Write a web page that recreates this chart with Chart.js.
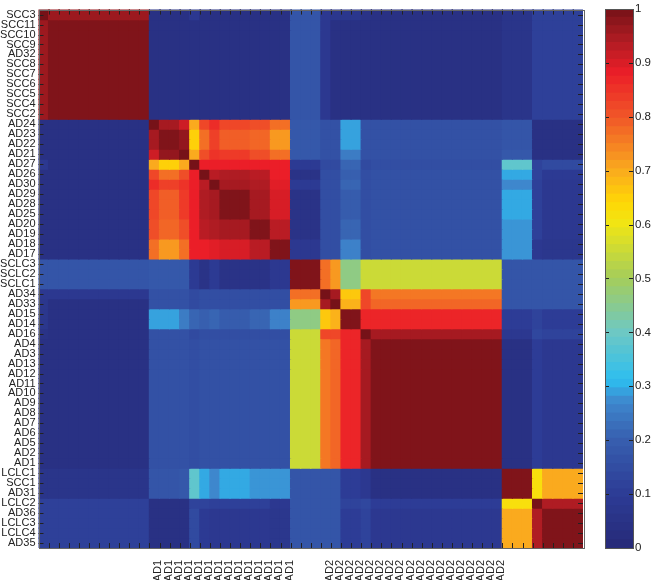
<!DOCTYPE html>
<html>
<head>
<meta charset="utf-8">
<script src="https://cdn.jsdelivr.net/npm/chart.js@4.4.0/dist/chart.umd.min.js"></script>
<style>
  body { margin: 0; background: #fff; }
  #wrap { position: relative; width: 651px; height: 580px; }
  #heat { position: absolute; left: 0; top: 0; }
  #bar { position: absolute; left: 590px; top: 0; }
</style>
</head>
<body>
<div id="wrap">
  <canvas id="heat" width="651" height="580"></canvas>
  <canvas id="bar" width="61" height="580"></canvas>
</div>
<script>
// Sample labels, top to bottom (same order for the columns)
const rowLabels = ['SCC3', 'SCC11', 'SCC10', 'SCC9', 'AD32', 'SCC8', 'SCC7', 'SCC6', 'SCC5', 'SCC4', 'SCC2',
  'AD24', 'AD23', 'AD22', 'AD21', 'AD27', 'AD26', 'AD30', 'AD29', 'AD28', 'AD25', 'AD20', 'AD19', 'AD18', 'AD17',
  'SCLC3', 'SCLC2', 'SCLC1', 'AD34', 'AD33', 'AD15', 'AD14', 'AD16',
  'AD4', 'AD3', 'AD13', 'AD12', 'AD11', 'AD10', 'AD9', 'AD8', 'AD7', 'AD6', 'AD5', 'AD2', 'AD1',
  'LCLC1', 'SCC1', 'AD31', 'LCLC2', 'AD36', 'LCLC3', 'LCLC4', 'AD35'];

// bottom labels as they show (clipped) in the picture
const colLabels = ['', '', '', '', '', '', '', '', '', '', '',
  'AD1', 'AD1', 'AD1', 'AD1', 'AD1', 'AD1', 'AD1', 'AD1', 'AD1', 'AD1', 'AD1', 'AD1', 'AD1', 'AD1',
  '', '', '', 'AD2', 'AD2', 'AD2', 'AD2', 'AD2',
  'AD2', 'AD2', 'AD2', 'AD2', 'AD2', 'AD2', 'AD2', 'AD2', 'AD2', 'AD2', 'AD2', 'AD2', 'AD2',
  '', '', '', '', '', '', '', ''];

// consecutive samples that share the same correlation profile
const clusterSizes = [1, 10, 1, 2, 1, 1, 1, 1, 3, 2, 2, 3, 1, 1, 2, 1, 13, 3, 1, 4];

// correlation between clusters
const clusterValues = [
  [1.00, 0.96, 0.04, 0.04, 0.04, 0.08, 0.04, 0.04, 0.04, 0.04, 0.04, 0.17, 0.08, 0.07, 0.07, 0.05, 0.04, 0.06, 0.11, 0.11],
  [0.96, 0.99, 0.04, 0.04, 0.04, 0.04, 0.04, 0.04, 0.04, 0.04, 0.04, 0.17, 0.08, 0.04, 0.04, 0.04, 0.04, 0.06, 0.11, 0.11],
  [0.04, 0.04, 1.00, 0.95, 0.91, 0.70, 0.82, 0.86, 0.82, 0.81, 0.77, 0.18, 0.16, 0.16, 0.29, 0.16, 0.16, 0.17, 0.04, 0.04],
  [0.04, 0.04, 0.95, 0.99, 0.97, 0.65, 0.77, 0.83, 0.79, 0.78, 0.72, 0.18, 0.16, 0.16, 0.29, 0.16, 0.16, 0.17, 0.04, 0.04],
  [0.04, 0.04, 0.91, 0.97, 1.00, 0.70, 0.81, 0.85, 0.84, 0.81, 0.77, 0.18, 0.16, 0.16, 0.25, 0.16, 0.16, 0.18, 0.04, 0.04],
  [0.08, 0.04, 0.70, 0.65, 0.70, 1.00, 0.88, 0.88, 0.88, 0.88, 0.88, 0.09, 0.14, 0.14, 0.21, 0.14, 0.15, 0.38, 0.12, 0.14],
  [0.04, 0.04, 0.82, 0.77, 0.81, 0.88, 1.00, 0.93, 0.94, 0.93, 0.88, 0.05, 0.15, 0.15, 0.20, 0.15, 0.16, 0.295, 0.12, 0.09],
  [0.04, 0.04, 0.86, 0.83, 0.85, 0.88, 0.93, 1.00, 0.95, 0.94, 0.89, 0.09, 0.15, 0.15, 0.21, 0.15, 0.16, 0.27, 0.11, 0.08],
  [0.04, 0.04, 0.82, 0.79, 0.84, 0.88, 0.94, 0.95, 0.99, 0.95, 0.90, 0.05, 0.15, 0.15, 0.19, 0.15, 0.16, 0.295, 0.11, 0.08],
  [0.04, 0.04, 0.81, 0.78, 0.81, 0.88, 0.93, 0.94, 0.95, 0.99, 0.93, 0.05, 0.15, 0.15, 0.21, 0.15, 0.16, 0.28, 0.11, 0.08],
  [0.04, 0.04, 0.77, 0.72, 0.77, 0.88, 0.88, 0.89, 0.90, 0.93, 0.99, 0.08, 0.15, 0.15, 0.26, 0.15, 0.16, 0.28, 0.08, 0.07],
  [0.17, 0.17, 0.18, 0.18, 0.18, 0.09, 0.05, 0.09, 0.05, 0.05, 0.08, 0.99, 0.77, 0.72, 0.46, 0.55, 0.55, 0.17, 0.17, 0.17],
  [0.08, 0.08, 0.16, 0.16, 0.16, 0.14, 0.15, 0.15, 0.15, 0.15, 0.15, 0.77, 1.00, 0.95, 0.66, 0.82, 0.76, 0.17, 0.17, 0.17],
  [0.07, 0.04, 0.16, 0.16, 0.16, 0.14, 0.15, 0.15, 0.15, 0.15, 0.15, 0.72, 0.95, 1.00, 0.69, 0.82, 0.78, 0.17, 0.17, 0.17],
  [0.07, 0.04, 0.29, 0.29, 0.25, 0.21, 0.20, 0.21, 0.19, 0.21, 0.26, 0.46, 0.66, 0.69, 0.99, 0.87, 0.87, 0.10, 0.12, 0.10],
  [0.05, 0.04, 0.16, 0.16, 0.16, 0.14, 0.15, 0.15, 0.15, 0.15, 0.15, 0.55, 0.82, 0.82, 0.87, 1.00, 0.95, 0.08, 0.13, 0.12],
  [0.04, 0.04, 0.16, 0.16, 0.16, 0.15, 0.16, 0.16, 0.16, 0.16, 0.16, 0.55, 0.76, 0.78, 0.87, 0.95, 0.99, 0.04, 0.10, 0.08],
  [0.06, 0.06, 0.17, 0.17, 0.18, 0.38, 0.295, 0.27, 0.295, 0.28, 0.28, 0.17, 0.17, 0.17, 0.10, 0.08, 0.04, 0.99, 0.62, 0.70],
  [0.11, 0.11, 0.04, 0.04, 0.04, 0.12, 0.12, 0.11, 0.11, 0.11, 0.08, 0.17, 0.17, 0.17, 0.12, 0.13, 0.10, 0.62, 1.00, 0.94],
  [0.11, 0.11, 0.04, 0.04, 0.04, 0.14, 0.09, 0.08, 0.08, 0.08, 0.07, 0.17, 0.17, 0.17, 0.10, 0.12, 0.08, 0.70, 0.94, 0.99]
];

// colour scale stops
const cmapPos = [0, 0.1, 0.2, 0.27, 0.31, 0.4, 0.5, 0.6, 0.64, 0.7, 0.8, 0.88, 0.94, 1];
const cmapRGB = [[38, 42, 120], [45, 60, 150], [55, 95, 175], [62, 135, 205], [45, 190, 240], [110, 200, 195],
  [165, 205, 90], [240, 230, 20], [255, 215, 5], [250, 170, 30], [240, 85, 40], [235, 30, 40], [175, 28, 35], [118, 18, 24]];

const colorAt = (v) => {
  v = Math.max(0, Math.min(1, v));
  let k = 1;
  while (k < cmapPos.length - 1 && v > cmapPos[k]) k++;
  const t = (v - cmapPos[k - 1]) / (cmapPos[k] - cmapPos[k - 1]);
  const c = cmapRGB[k - 1].map((a, n) => Math.round(a + (cmapRGB[k][n] - a) * t));
  return `rgb(${c.join(',')})`;
};

// which cluster each sample belongs to
const groupOf = [];
clusterSizes.forEach((n, g) => { for (let i = 0; i < n; i++) groupOf.push(g); });

const cellValue = (r, c) => clusterValues[groupOf[r]][groupOf[c]];

Chart.defaults.font.family = '"Liberation Sans", Arial, sans-serif';
Chart.defaults.color = '#222';

// one stacked dataset per row, each segment is one cell
const heatSets = rowLabels.map((name, r) => ({
  label: name,
  data: rowLabels.map(() => 1),
  backgroundColor: rowLabels.map((_, c) => colorAt(cellValue(r, c))),
  borderWidth: 0,
  inflateAmount: 0.6,
  barPercentage: 1,
  categoryPercentage: 1
}));

// MATLAB-like inward ticks and frame
const frameTicks = {
  id: 'frameTicks',
  afterDraw(chart) {
    const { ctx, chartArea: a } = chart;
    const x = chart.scales.x, y = chart.scales.y;
    ctx.save();
    ctx.strokeStyle = '#222';
    ctx.lineWidth = 1;
    ctx.beginPath();
    for (let j = 1; j < x.ticks.length; j++) {
      const px = Math.round((x.getPixelForTick(j - 1) + x.getPixelForTick(j)) / 2) + 0.5;
      ctx.moveTo(px, a.top); ctx.lineTo(px, a.top + 5);
      ctx.moveTo(px, a.bottom); ctx.lineTo(px, a.bottom - 5);
    }
    for (let i = 0; i < y.ticks.length; i++) {
      const py = Math.round(y.getPixelForTick(i)) + 0.5;
      ctx.moveTo(a.left, py); ctx.lineTo(a.left + 5, py);
      ctx.moveTo(a.right, py); ctx.lineTo(a.right - 5, py);
    }
    ctx.stroke();
    ctx.strokeStyle = '#666';
    ctx.strokeRect(Math.round(a.left) + 0.5, Math.round(a.top) + 0.5, Math.round(a.right - a.left), Math.round(a.bottom - a.top));
    ctx.restore();
  }
};

new Chart(document.getElementById('heat'), {
  type: 'bar',
  data: { labels: colLabels, datasets: heatSets },
  options: {
    responsive: false,
    animation: false,
    devicePixelRatio: 1,
    layout: { padding: { top: 5, right: 68, left: 0, bottom: 0 } },
    plugins: { legend: { display: false }, tooltip: { enabled: false } },
    scales: {
      x: {
        stacked: true,
        grid: { display: false, drawTicks: false },
        border: { display: false },
        ticks: { autoSkip: false, minRotation: 90, maxRotation: 90, padding: 12, labelOffset: 4, font: { size: 11 }, color: '#222' },
        afterFit: (s) => { s.height = 32; }
      },
      y: {
        stacked: true,
        min: 0,
        max: rowLabels.length,
        reverse: true,
        grid: { display: false, drawTicks: false },
        border: { display: false },
        afterBuildTicks: (s) => { s.ticks = rowLabels.map((_, i) => ({ value: i + 0.5 })); },
        ticks: { autoSkip: false, padding: 3, font: { size: 11 }, color: '#222', callback: (v, i) => rowLabels[i] },
        afterFit: (s) => { s.width = 38.5; }
      }
    }
  },
  plugins: [frameTicks]
});

// colour bar
const levels = 64;
const barSets = [];
for (let k = 0; k < levels; k++) {
  barSets.push({ data: [1 / levels], backgroundColor: colorAt((k + 0.5) / levels), borderWidth: 0, inflateAmount: 0.6, barPercentage: 1, categoryPercentage: 1 });
}

const barTicks = {
  id: 'barTicks',
  afterDraw(chart) {
    const { ctx, chartArea: a } = chart;
    const y = chart.scales.y;
    ctx.save();
    ctx.strokeStyle = '#222';
    ctx.lineWidth = 1;
    ctx.beginPath();
    y.ticks.forEach((t) => {
      const py = Math.round(y.getPixelForValue(t.value)) + 0.5;
      ctx.moveTo(a.left, py); ctx.lineTo(a.left + 4, py);
      ctx.moveTo(a.right, py); ctx.lineTo(a.right - 4, py);
    });
    ctx.stroke();
    ctx.strokeStyle = '#555';
    ctx.strokeRect(Math.round(a.left) + 0.5, Math.round(a.top) + 0.5, Math.round(a.right - a.left), Math.round(a.bottom - a.top));
    ctx.restore();
  }
};

new Chart(document.getElementById('bar'), {
  type: 'bar',
  data: { labels: [''], datasets: barSets },
  options: {
    responsive: false,
    animation: false,
    devicePixelRatio: 1,
    layout: { padding: { top: 5, left: 15, bottom: 32, right: 0 } },
    plugins: { legend: { display: false }, tooltip: { enabled: false } },
    scales: {
      x: { stacked: true, display: false },
      y: {
        stacked: true,
        position: 'right',
        min: 0,
        max: 1,
        grid: { display: false, drawTicks: false },
        border: { display: false },
        ticks: { stepSize: 0.1, padding: 2, font: { size: 11.5 }, color: '#222', callback: (v) => String(Number(v.toFixed(1))) },
        afterFit: (s) => { s.width = 18; }
      }
    }
  },
  plugins: [barTicks]
});
</script>
</body>
</html>
